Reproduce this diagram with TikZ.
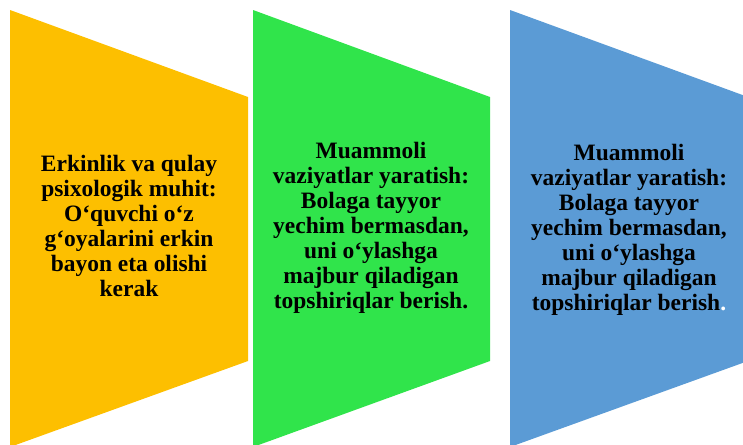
\documentclass[tikz,border=0pt]{standalone}
\usepackage{fontspec}
\setmainfont{Liberation Serif}

\definecolor{gold}{HTML}{FDBF00}
\definecolor{lime}{HTML}{30E44B}
\definecolor{sky}{HTML}{5B9BD5}

\begin{document}
\begin{tikzpicture}[
    x=0.75pt, y=-0.75pt,
    txt/.style={align=center, text=black, inner sep=0pt,
        font=\bfseries\fontsize{17.6}{18.8}\selectfont}
]
\useasboundingbox (0,0) rectangle (743,444);

% Panels
\begin{scope}
\clip (0,0) rectangle (743,444);
\fill[gold] (10,10) -- (248,97) -- (248,361) -- (10,447) -- cycle;
\fill[lime] (253,10) -- (490,97) -- (490,361) -- (253,447) -- cycle;
\fill[sky] (510,10) -- (748,97) -- (748,361) -- (510,447) -- cycle;
\end{scope}

% Texts
\node[txt] (t1) at (129,226) {Erkinlik va qulay\\psixologik muhit:\\O‘quvchi o‘z\\g‘oyalarini erkin\\bayon eta olishi\\kerak};
\node[txt] (t2) at (371,228) {Muammoli\\vaziyatlar yaratish:\\Bolaga tayyor\\yechim bermasdan,\\uni o‘ylashga\\majbur qiladigan\\topshiriqlar berish.};
\node[txt] (t3) at (629,230) {Muammoli\\vaziyatlar yaratish:\\Bolaga tayyor\\yechim bermasdan,\\uni o‘ylashga\\majbur qiladigan\\topshiriqlar berish\textcolor{white}{.}};

\end{tikzpicture}
\end{document}
